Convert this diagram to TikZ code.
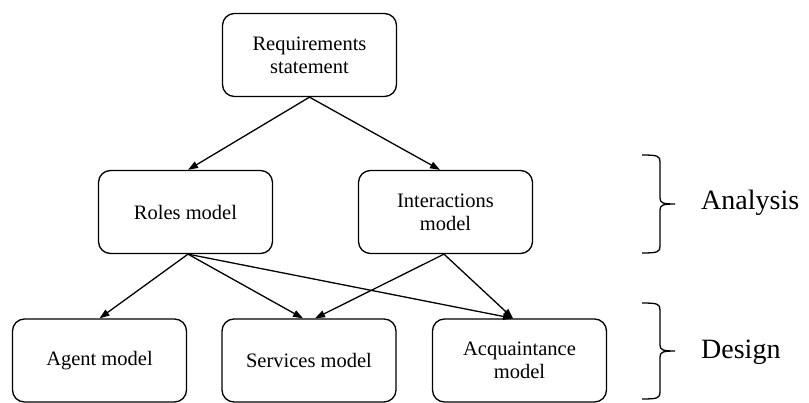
\documentclass[tikz,border=0pt]{standalone}
\usepackage{fontspec}
\setmainfont{Liberation Serif}
\usetikzlibrary{arrows.meta}
\begin{document}
\begin{tikzpicture}[x=1pt,y=-1pt,
  box/.style={draw=black, line width=1.3pt, rounded corners=12pt, minimum width=174pt, minimum height=83pt, align=center, inner sep=0pt, font=\fontsize{20.5}{23}\selectfont},
  conn/.style={line width=1.3pt, -{Triangle[length=10pt,width=7pt]}},
  brace/.style={line width=1.3pt},
  lab/.style={anchor=west, inner sep=0pt, font=\fontsize{28}{32}\selectfont}]
\useasboundingbox (0,0) rectangle (809,403);
\node[box] (req) at (309.5,55) {Requirements\\statement};
\node[box] (roles) at (185.5,212) {Roles model};
\node[box] (inter) at (445.5,212) {Interactions\\model};
\node[box] (agent) at (99.5,360.5) {Agent model};
\node[box] (serv) at (309,360.5) {Services model};
\node[box] (acq) at (519.5,360.5) {Acquaintance\\model};
\draw[conn] (req.south) -- ([xshift=2.5pt]roles.north);
\draw[conn] (req.south) -- ([xshift=-5.5pt]inter.north);
\draw[conn] ([xshift=2.5pt]roles.south) -- (agent.north);
\draw[conn] ([xshift=2.5pt]roles.south) -- ([xshift=-6pt]serv.north);
\draw[conn] ([xshift=2.5pt]roles.south) -- ([xshift=-6.5pt]acq.north);
\draw[conn] ([xshift=-1.5pt]inter.south) -- ([xshift=6pt]serv.north);
\draw[conn] ([xshift=-1.5pt]inter.south) -- ([xshift=-6.5pt]acq.north);
\draw[brace] (642,155) .. controls (658,155) and (660,156) .. (660,162) -- (660,198)
  .. controls (660,203) and (663,204) .. (675,204)
  .. controls (663,204) and (660,205) .. (660,210) -- (660,246)
  .. controls (660,252) and (658,253) .. (642,253);
\draw[brace] (642,303) .. controls (658,303) and (660,304) .. (660,310) -- (660,345)
  .. controls (660,350) and (663,351) .. (675,351)
  .. controls (663,351) and (660,352) .. (660,357) -- (660,392)
  .. controls (660,398) and (658,399) .. (642,399);
\node[lab] (ana) at (701,203) {Analysis};
\node[lab] (des) at (701,352) {Design};
\end{tikzpicture}
\end{document}
